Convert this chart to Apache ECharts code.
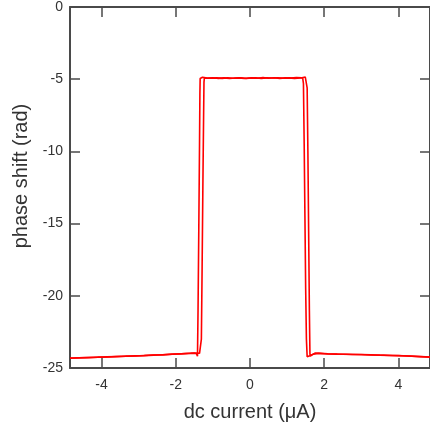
<!DOCTYPE html>
<html>
<head>
<meta charset="utf-8">
<script src="https://cdn.jsdelivr.net/npm/echarts@6/dist/echarts.min.js"></script>
<style>
html,body{margin:0;padding:0;background:#fff;}
#chart{width:430px;height:428px;}
</style>
</head>
<body>
<div id="chart"></div>
<script>
var xTicks = [-4, -2, 0, 2, 4];
var xTickLabels = ['-4', '-2', '0', '2', '4'];

// sweep branch 1 (outer transitions)
var currentA = [-4.85,-4.6,-4.35,-4.1,-3.85,-3.6,-3.35,-3.1,-2.85,-2.6,-2.35,-2.1,-1.85,-1.65,-1.5,-1.44,-1.415,-1.40,-1.38,-1.36,-1.35,-1.343,-1.33,-1.28,-1.15,-1.0,-0.85,-0.7,-0.55,-0.4,-0.25,-0.1,0.05,0.2,0.35,0.5,0.65,0.8,0.95,1.1,1.25,1.4,1.49,1.53,1.54,1.56,1.58,1.60,1.615,1.625,1.66,1.75,1.9,2.1,2.35,2.6,2.85,3.1,3.35,3.6,3.85,4.1,4.35,4.6,4.85];
var phaseA = [-24.33,-24.30,-24.28,-24.26,-24.23,-24.21,-24.19,-24.16,-24.14,-24.11,-24.08,-24.05,-24.02,-23.99,-23.97,-24.02,-24.18,-21.0,-15.5,-9.5,-6.0,-4.95,-4.82,-4.86,-4.92,-4.90,-4.94,-4.91,-4.95,-4.92,-4.90,-4.94,-4.91,-4.93,-4.89,-4.93,-4.90,-4.94,-4.91,-4.92,-4.89,-4.90,-4.85,-4.84,-5.6,-10.0,-15.5,-21.0,-24.0,-24.18,-24.07,-23.97,-23.98,-24.02,-24.04,-24.05,-24.06,-24.08,-24.10,-24.11,-24.13,-24.15,-24.18,-24.21,-24.24];

// sweep branch 2 (inner transitions)
var currentB = [-4.85,-4.6,-4.35,-4.1,-3.85,-3.6,-3.35,-3.1,-2.85,-2.6,-2.35,-2.1,-1.85,-1.6,-1.45,-1.36,-1.32,-1.31,-1.29,-1.27,-1.25,-1.24,-1.23,-1.19,-1.05,-0.9,-0.75,-0.6,-0.45,-0.3,-0.15,0.0,0.15,0.3,0.45,0.6,0.75,0.9,1.05,1.2,1.35,1.42,1.44,1.46,1.48,1.50,1.52,1.54,1.56,1.61,1.7,1.85,2.0,2.25,2.5,2.75,3.0,3.25,3.5,3.75,4.0,4.25,4.5,4.85];
var phaseB = [-24.31,-24.29,-24.27,-24.25,-24.24,-24.20,-24.18,-24.17,-24.13,-24.10,-24.09,-24.04,-24.01,-23.98,-23.96,-23.98,-24.10,-23.0,-18.0,-12.5,-7.5,-5.2,-4.93,-4.90,-4.93,-4.91,-4.94,-4.90,-4.93,-4.91,-4.95,-4.92,-4.90,-4.94,-4.91,-4.92,-4.90,-4.93,-4.91,-4.94,-4.91,-4.92,-5.3,-9.5,-14.5,-19.5,-23.0,-24.22,-24.29,-24.15,-24.04,-23.99,-24.01,-24.03,-24.05,-24.07,-24.07,-24.09,-24.12,-24.13,-24.14,-24.17,-24.20,-24.25];

function pairs(xs, ys) {
  var out = [];
  for (var i = 0; i < xs.length; i++) out.push([xs[i], ys[i]]);
  return out;
}

var FONT = '"Liberation Sans", Arial, Helvetica, sans-serif';
var axisCol = '#4a4a4a';
var lineStyle = { color: axisCol, width: 2 };
var tickStyle = { color: axisCol, width: 1.5 };

var chart = echarts.init(document.getElementById('chart'), null, { renderer: 'canvas' });
chart.setOption({
  animation: false,
  backgroundColor: '#ffffff',
  grid: { left: 70, top: 5, right: -3.5, bottom: 60, containLabel: false },
  xAxis: [
    {
      type: 'value', position: 'bottom', min: -4.85, max: 4.85,
      name: 'dc current (\u03bcA)', nameLocation: 'middle', nameGap: 34,
      nameTextStyle: { fontFamily: FONT, fontSize: 20, color: '#333' },
      axisLine: { show: true, onZero: false, lineStyle: lineStyle },
      axisTick: { show: true, inside: true, length: 10, lineStyle: tickStyle, customValues: xTicks },
      axisLabel: { show: true, margin: 10, fontFamily: FONT, fontSize: 14, color: '#333', customValues: xTicks,
        formatter: function (v) { var i = xTicks.indexOf(v); return i >= 0 ? xTickLabels[i] : ''; } },
      splitLine: { show: false }
    },
    {
      type: 'value', position: 'top', min: -4.85, max: 4.85,
      axisLine: { show: true, onZero: false, lineStyle: lineStyle },
      axisTick: { show: true, inside: true, length: 10, lineStyle: tickStyle, customValues: xTicks },
      axisLabel: { show: false },
      splitLine: { show: false }
    }
  ],
  yAxis: [
    {
      type: 'value', position: 'left', min: -25, max: 0, interval: 5,
      name: 'phase shift (rad)', nameLocation: 'middle', nameGap: 32,
      nameTextStyle: { fontFamily: FONT, fontSize: 20, color: '#333', padding: [0, 0, 0, 23] },
      axisLine: { show: true, onZero: false, lineStyle: lineStyle },
      axisTick: { show: true, inside: true, length: 10, lineStyle: tickStyle },
      axisLabel: { show: true, margin: 7, fontFamily: FONT, fontSize: 14, color: '#333' },
      splitLine: { show: false }
    },
    {
      type: 'value', position: 'right', min: -25, max: 0, interval: 5,
      axisLine: { show: true, onZero: false, lineStyle: lineStyle },
      axisTick: { show: true, inside: true, length: 10, lineStyle: tickStyle },
      axisLabel: { show: false },
      splitLine: { show: false }
    }
  ],
  series: [
    {
      type: 'line', xAxisIndex: 0, yAxisIndex: 0, showSymbol: false, symbol: 'none',
      data: pairs(currentA, phaseA),
      lineStyle: { color: '#ff0000', width: 1.6 }
    },
    {
      type: 'line', xAxisIndex: 0, yAxisIndex: 0, showSymbol: false, symbol: 'none',
      data: pairs(currentB, phaseB),
      lineStyle: { color: '#ff0000', width: 1.6 }
    }
  ]
});
</script>
</body>
</html>
